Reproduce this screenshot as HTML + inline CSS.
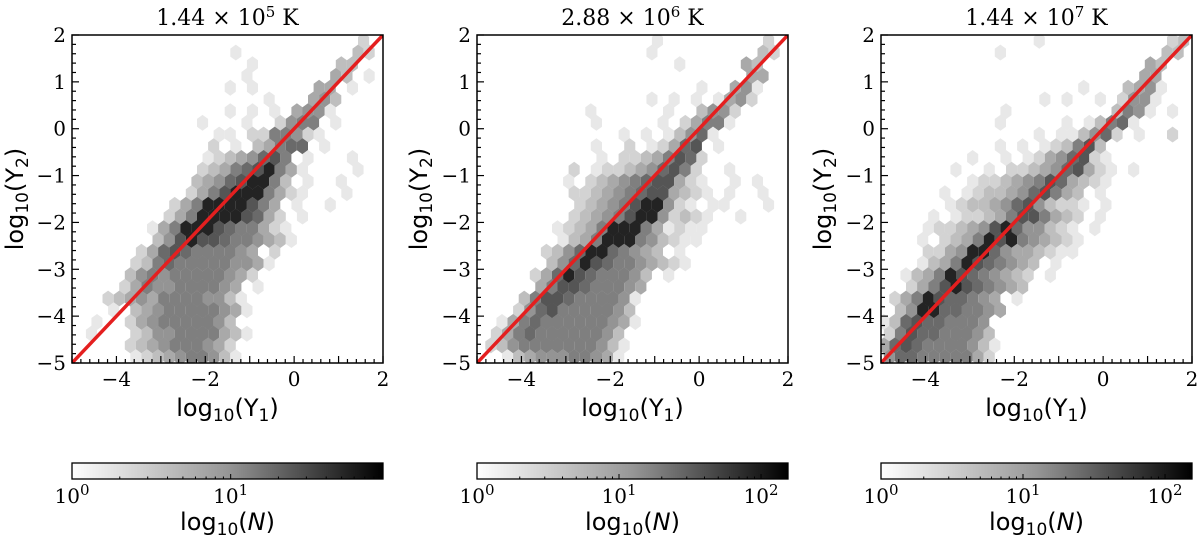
<!DOCTYPE html>
<html><head><meta charset="utf-8">
<style>
html,body{margin:0;padding:0;background:#fff;}
svg{display:block;}
.tick{font-family:"DejaVu Serif","Liberation Serif",serif;font-size:20px;fill:#000;}
.lab{font-family:"DejaVu Sans","Liberation Sans",sans-serif;font-size:24px;fill:#000;}
.ttl{font-family:"DejaVu Serif","Liberation Serif",serif;font-size:22px;fill:#000;}
</style></head>
<body>
<svg id="fig" width="1200" height="538" viewBox="0 0 1200 538" xmlns="http://www.w3.org/2000/svg">
<defs>
<linearGradient id="greys" x1="0" x2="1" y1="0" y2="0">
<stop offset="0" stop-color="#ffffff"/><stop offset="0.5" stop-color="#969696"/><stop offset="1" stop-color="#000000"/>
</linearGradient>
</defs>
</svg>
<script>
const panelTitles = [["1.44 × 10","5"," K"],["2.88 × 10","6"," K"],["1.44 × 10","7"," K"]];
const xTicks = [-4,-2,0,2];
const yTicks = [-5,-4,-3,-2,-1,0,1,2];
const cbarMaxLog = [1.96, 2.19, 2.19];
const cbarTickLabels = [["0","1"],["0","1","2"],["0","1","2"]];
const fitLineX = [-5, 2];
const fitLineY = [-5, 2];
// hexbin density levels (1..9), rows top (y=1.875) to bottom (y=-4.875), cols x=-4.875..1.875 step 0.25
const density1 = [
"..........................2",
"..............1..........32",
"................1.......33",
"...............1.......43.1",
"..............1.1.....44.1",
".................1...453",
"..............1.1.1.4551",
"...........1...1..2566.1",
".............11.2266521",
"............2.1.34677.1",
"............12345786.1...1",
"...........2346789641....1",
"...........345789963.1..1",
"..........24689996421...1",
".........2469999864.1..1",
"........24699998742.1",
".......1469998766421",
".......3589887665431",
"......24787666654.2",
".....2367666665541",
".....356566666542",
"....24655666654.1",
"...2345466665531",
"...1.34566666541",
"..1..2456666653",
".1...23556666431",
".....2345666542",
".....1234566531"];
const density2 = [
"................1.........2",
"...............1.........32",
"..................1.....43",
"........................44",
"....................1..451",
"...............1.1.1.1452",
"..........1......1..3552",
"..........1.....1.24661",
".............1.1.13571",
"..........1..2.12478.1",
"...........1.22346872",
"........2.1223457862..1.....1",
"........1.23456788421..1.1",
"........2234567884321.1..1",
".........23456899521.11...1",
"........2345689952321..1",
".......12346999641211",
".......1346999653211",
"......23579976543.1",
"......3579876654321",
".....24798766653.1",
".....4688766654",
"....36887666651",
"...25786666653",
"..1467666666541",
".246766666653",
".2356666666531",
"..13455566541"];
const density3 = [
"..............1...........23",
"..........1..............33",
"........................43",
".......................44",
"..................1...3451",
"..............1.1..1.2551",
"...........1.........3651.1",
"..........1.....1.13671",
"..............1.113572.1..2",
"..........1.1.123683",
"........1..1.12457821",
"......1..1.2234578421.1",
"........1223456874321",
".....1.12334578643.1",
"......1233457853221.1",
"....1.122346886432.1",
"....12234589755321.1",
"...1.2346989654321",
"....22459975443211",
"...13469876543.1",
"..134698765432.1",
"..24689876543",
".2469877654.1",
".3599776654",
"1378776665",
"2687766653",
"47876666531",
"5776666642"];
const densities = [density1, density2, density3];

const NS = "http://www.w3.org/2000/svg";
const svg = document.getElementById('fig');
function mk(tag, attrs, parent){const e=document.createElementNS(NS,tag);for(const k in attrs)e.setAttribute(k,attrs[k]);(parent||svg).appendChild(e);return e;}

const panelX = [72, 477, 881];
const W = 311, T = 35, H = 328;
const ylabX = [14, 418, 822];

panelX.forEach((L, p) => {
  const g = mk('g', {});
  
  
  const sx = v => L + (v + 5) / 7 * W;
  const sy = v => T + (2 - v) / 7 * H;
  const cp = mk('clipPath', {id: 'clip' + p}, g);
  mk('rect', {x: L, y: T, width: W, height: H}, cp);
  const hg = mk('g', {'clip-path': 'url(#clip' + p + ')'}, g);
  
  
  const rows = densities[p];
  const hw = (sx(0.25) - sx(0)) / 2, hh = (sy(0) - sy(0.25)) * 0.68;
  rows.forEach((row, r) => {
    const yv = 2 - 0.25 * r - 0.125;
    for (let c = 0; c < 28 && c < row.length; c++) {
      const ch = row[c];
      if (ch === '.') continue;
      const lv = +ch;
      const xv = -5 + 0.25 * c + 0.125 + (r % 2 ? 0.0625 : -0.0625);
      const cx = sx(xv), cy = sy(yv);
      let gv = Math.round(232 - (lv - 1) * 21);
      if (lv === 9) gv = 35;
      const pts = [[0,-hh],[hw,-hh/2],[hw,hh/2],[0,hh],[-hw,hh/2],[-hw,-hh/2]].map(q => (cx+q[0]).toFixed(1)+','+(cy+q[1]).toFixed(1)).join(' ');
      const hx = mk('polygon', {points: pts, fill: `rgb(${gv},${gv},${gv})`}, hg);
      
      
    }
  });
  const ln = mk('line', {x1: sx(fitLineX[0]), y1: sy(fitLineY[0]), x2: sx(fitLineX[1]), y2: sy(fitLineY[1]), stroke: '#e41f1f', 'stroke-width': 3.5, 'clip-path': 'url(#clip' + p + ')'}, g);
  
  
  const fr = mk('rect', {x: L, y: T, width: W, height: H, fill: 'none', stroke: '#000', 'stroke-width': 1.5}, g);
  
  
  for (let i = 0; i <= 35; i++) {
    const v = -5 + i * 0.2;
    const major = i % 5 === 0;
    const len = major ? 7 : 4;
    mk('line', {x1: sx(v), x2: sx(v), y1: T + H, y2: T + H - len, stroke: '#000', 'stroke-width': 1.2}, g);
    mk('line', {x1: L, x2: L + len, y1: sy(v), y2: sy(v), stroke: '#000', 'stroke-width': 1.2}, g);
  }
  xTicks.forEach(v => {
    const t = mk('text', {x: sx(v), y: T + H + 23, 'text-anchor': 'middle', class: 'tick'}, g);
    t.textContent = v < 0 ? '−' + (-v) : '' + v;
    
    
  });
  yTicks.forEach(v => {
    const t = mk('text', {x: L - 6, y: sy(v) + 7, 'text-anchor': 'end', class: 'tick'}, g);
    t.textContent = v < 0 ? '−' + (-v) : '' + v;
    
    
  });
  const tt = mk('text', {x: L + W / 2, y: 25, 'text-anchor': 'middle', class: 'ttl'}, g);
  
  
  tt.innerHTML = panelTitles[p][0] + '<tspan dy="-8" font-size="15">' + panelTitles[p][1] + '</tspan><tspan dy="8">' + panelTitles[p][2] + '</tspan>';
  const xl = mk('text', {x: L + W / 2, y: 416, 'text-anchor': 'middle', class: 'lab'}, g);
  
  
  xl.innerHTML = 'log<tspan dy="5" font-size="17">10</tspan><tspan dy="-5">(Y</tspan><tspan dy="5" font-size="17">1</tspan><tspan dy="-5">)</tspan>';
  const yl = mk('text', {x: 0, y: 0, 'text-anchor': 'middle', class: 'lab', transform: `translate(${ylabX[p] + 9},${T + H / 2}) rotate(-90)`}, g);
  
  
  yl.innerHTML = 'log<tspan dy="5" font-size="17">10</tspan><tspan dy="-5">(Y</tspan><tspan dy="5" font-size="17">2</tspan><tspan dy="-5">)</tspan>';
  const cb = mk('g', {}, g);
  
  
  const cT = 463, cH = 16;
  mk('rect', {x: L, y: cT, width: W, height: cH, fill: 'url(#greys)', stroke: '#000', 'stroke-width': 1.3}, cb);
  const dec = W / cbarMaxLog[p];
  for (let d = 0; d < 3; d++) {
    for (let m = 1; m <= 9; m++) {
      const lv = d + Math.log10(m);
      if (lv > cbarMaxLog[p] + 1e-6) continue;
      const x = L + lv * dec;
      const len = m === 1 ? 5 : 2.5;
      mk('line', {x1: x, x2: x, y1: cT + cH, y2: cT + cH - len, stroke: '#000', 'stroke-width': 1}, cb);
    }
  }
  cbarTickLabels[p].forEach((e, i) => {
    const t = mk('text', {x: L + i * dec, y: cT + cH + 24, 'text-anchor': 'middle', class: 'tick'}, cb);
    
    
    t.innerHTML = '10<tspan dy="-8" font-size="15">' + e + '</tspan>';
  });
  const cl = mk('text', {x: L + W / 2, y: 530, 'text-anchor': 'middle', class: 'lab'}, cb);
  
  
  cl.innerHTML = 'log<tspan dy="5" font-size="17">10</tspan><tspan dy="-5">(</tspan><tspan font-style="italic">N</tspan>)';
});
</script>
</body></html>
